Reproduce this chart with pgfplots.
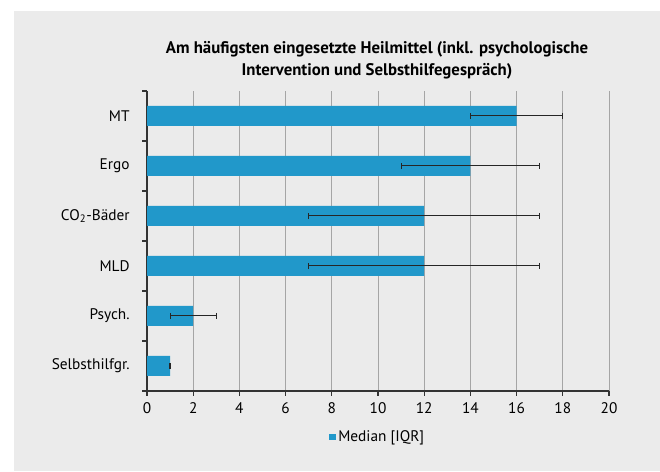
\documentclass[border=0pt]{standalone}
\usepackage{pgfplots}
\pgfplotsset{compat=1.18}
\usepackage{fontspec}
\setmainfont{PT Sans}
\definecolor{panel}{RGB}{235,235,235}
\definecolor{barblue}{RGB}{33,152,202}
\definecolor{gridgrey}{RGB}{165,165,165}
\begin{document}
\begin{tikzpicture}
\fill[white] (0pt,0pt) rectangle (495pt,353.25pt);
\fill[panel] (10.5pt,0pt) rectangle (495pt,345pt);
\useasboundingbox (0pt,0pt) rectangle (495pt,353.25pt);
\node[font=\fontsize{12.6}{16.5}\selectfont\bfseries, align=center] at (282.75pt,308pt) {Am häufigsten eingesetzte Heilmittel (inkl. psychologische\\Intervention und Selbsthilfegespräch)};
\begin{axis}[
  at={(110.25pt,60pt)}, anchor=south west,
  scale only axis, width=346.5pt, height=225pt,
  xmin=0, xmax=20, ymin=-0.5, ymax=5.5,
  axis x line*=bottom, axis y line*=left,
  axis line style={draw=black!80, line width=0.8pt},
  xtick={0,2,...,20},
  xmajorgrids=true,
  grid style={gridgrey, line width=0.75pt},
  ytick={0,1,2,3,4,5},
  yticklabels={Selbsthilfgr.,Psych.,MLD,{CO\textsubscript{2}-Bäder},Ergo,MT},
  minor ytick={-0.5,0.5,1.5,2.5,3.5,4.5,5.5},
  major tick length=3.5pt,
  minor tick length=3.5pt,
  tick style={draw=black!80, line width=0.8pt},
  major y tick style={draw=none},
  tick align=outside,
  ticklabel style={font=\fontsize{11.5}{13}\selectfont},
  /pgf/number format/assume math mode=true,
  yticklabel style={xshift=-6pt},
  xticklabel style={yshift=-2pt},
  legend style={at={(axis description cs:0.5,-0.153)}, anchor=center, draw=none, fill=none, font=\fontsize{11.5}{13}\selectfont},
  legend image code/.code={\fill[barblue] (0pt,-2.4pt) rectangle (4.8pt,2.4pt);},
]
\addplot[xbar, bar width=0.4, fill=barblue, draw=none,
  error bars/.cd, x dir=both, x explicit,
  error bar style={black!85, line width=0.75pt},
  error mark options={black!85, rotate=90, mark size=2.4pt, line width=0.75pt}]
  coordinates {
  (16,5) +- (2,0)
  (14,4) +- (3,0)
  (12,3) +- (5,0)
  (12,2) +- (5,0)
  (2,1) +- (1,0)
  (1,0) +- (0.03,0)
  };
\addlegendentry{Median [IQR]}
\end{axis}
\end{tikzpicture}
\end{document}
